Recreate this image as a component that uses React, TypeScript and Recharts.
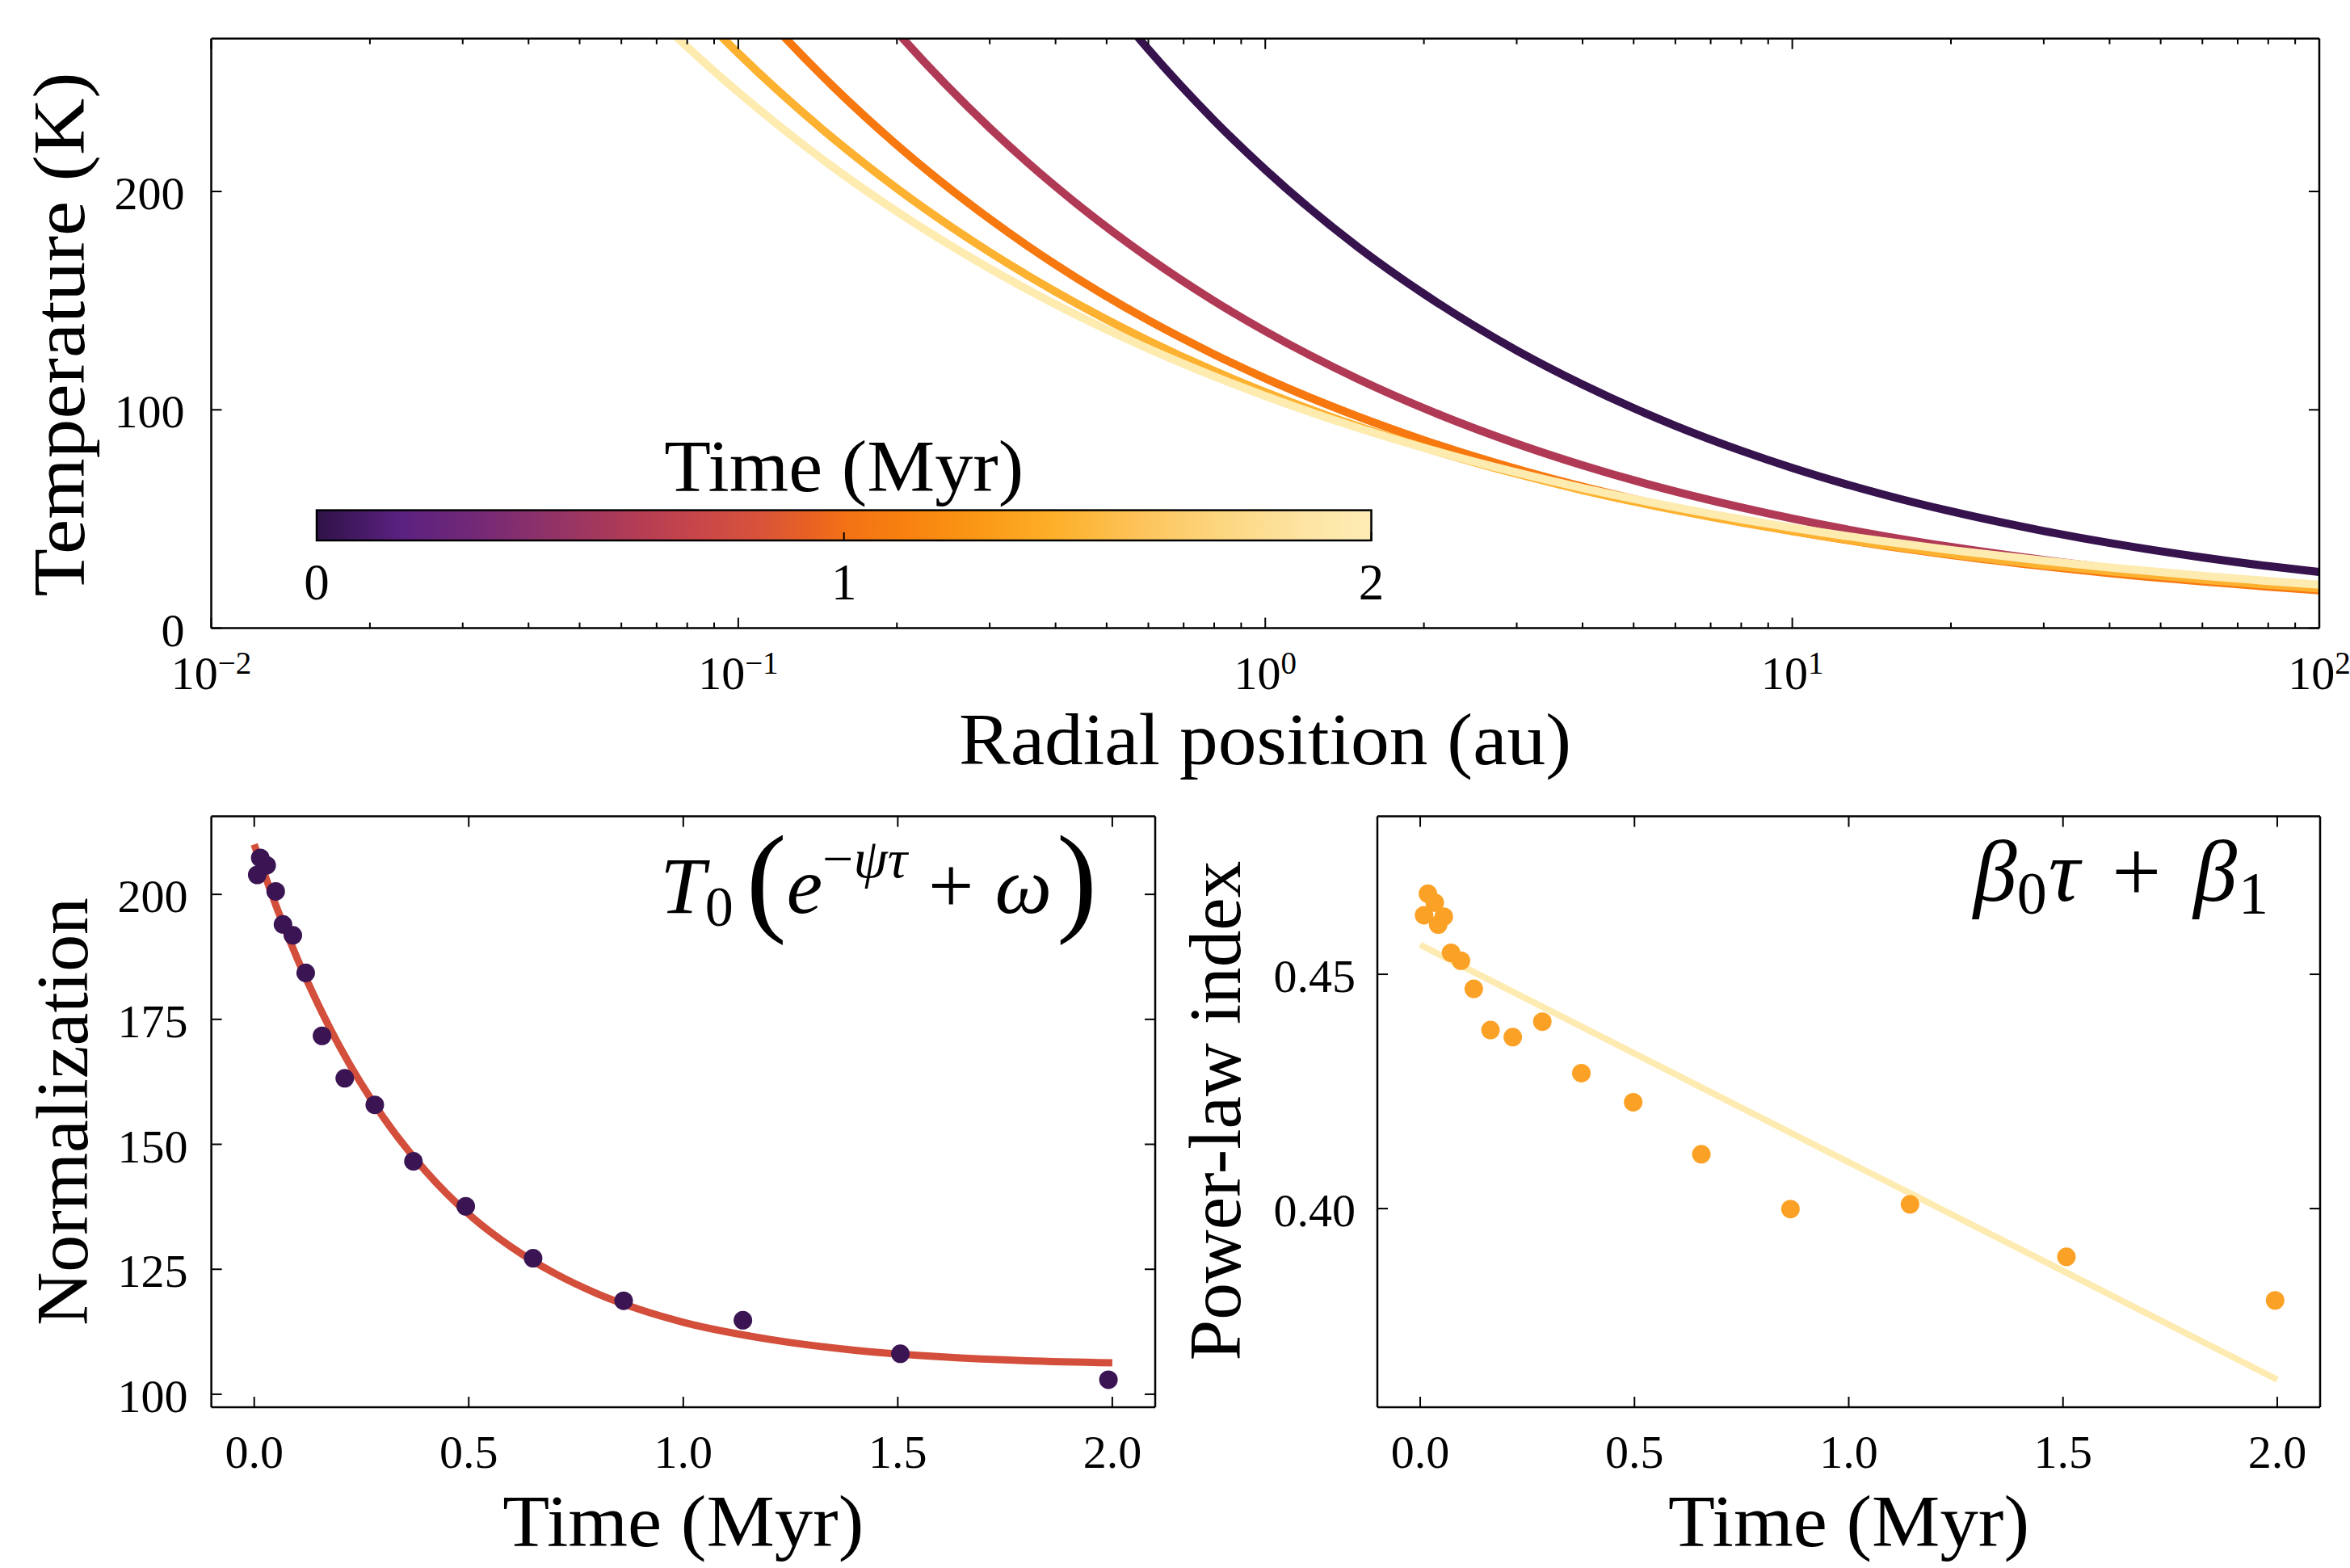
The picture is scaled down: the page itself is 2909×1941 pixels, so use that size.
import React from 'react';
import { LineChart, Line, XAxis, YAxis, ComposedChart, Scatter } from 'recharts';

const FONT = '"Liberation Serif", "Times New Roman", serif';

// ---------- Top panel: temperature profiles ----------
const radii = [0.04, 0.06, 0.08, 0.1, 0.15, 0.2, 0.3, 0.4, 0.6, 0.8, 1, 1.5, 2, 3, 4, 6, 8, 10, 15, 20, 30, 40, 60, 80, 100];
const tempT0 = [912.3, 758.2, 664.9, 600.5, 499.1, 437.7, 363.8, 319.0, 265.1, 232.5, 210.0, 174.5, 153.1, 127.2, 111.6, 92.7, 81.3, 73.4, 61.0, 53.5, 44.5, 39.0, 32.4, 28.4, 25.7];
const tempT05 = [548.3, 460.0, 406.1, 368.7, 309.3, 273.1, 229.1, 202.3, 169.7, 149.8, 136.0, 114.1, 100.7, 84.5, 74.6, 62.6, 55.3, 50.2, 42.1, 37.2, 31.2, 27.5, 23.1, 20.4, 18.5];
const tempT10 = [428.0, 362.5, 322.1, 294.0, 249.0, 221.3, 187.4, 166.5, 141.0, 125.4, 114.4, 96.9, 86.1, 72.9, 64.8, 54.9, 48.8, 44.5, 37.7, 33.5, 28.4, 25.2, 21.4, 19.0, 17.3];
const tempT15 = [375.3, 320.8, 287.1, 263.3, 225.1, 201.4, 172.2, 154.1, 131.7, 117.8, 108.1, 92.4, 82.7, 70.7, 63.2, 54.1, 48.4, 44.4, 37.9, 33.9, 29.0, 26.0, 22.2, 19.9, 18.2];
const tempT20 = [342.5, 295.6, 266.2, 245.5, 211.8, 190.8, 164.7, 148.3, 128.0, 115.3, 106.3, 91.7, 82.6, 71.3, 64.2, 55.4, 49.9, 46.0, 39.7, 35.8, 30.9, 27.8, 24.0, 21.6, 19.9];
const curveSeries = [tempT0, tempT05, tempT10, tempT15, tempT20];
const curveColors = ['#37134e', '#b03a55', '#f6780f', '#fdb130', '#feebb0'];

const xMajorTop = [0.01, 0.1, 1, 10, 100];
const xMajorExp = ['\u22122', '\u22121', '0', '1', '2'];
const xMinorTop = [0.02, 0.03, 0.04, 0.05, 0.06, 0.07, 0.08, 0.09, 0.2, 0.3, 0.4, 0.5, 0.6, 0.7, 0.8, 0.9, 2, 3, 4, 5, 6, 7, 8, 9, 20, 30, 40, 50, 60, 70, 80, 90];
const yTicksTop = [0, 100, 200];

// colorbar
const cbTicks = [0, 1, 2];
const cbStops: [number, string][] = [
  [0, '#2f1247'], [0.08, '#5a2181'], [0.16, '#772a75'], [0.24, '#983563'], [0.3, '#b23c55'],
  [0.36, '#c8464a'], [0.42, '#d8533a'], [0.47, '#e96322'], [0.5, '#f27116'], [0.56, '#f8820f'],
  [0.63, '#fb9916'], [0.7, '#fdb02a'], [0.78, '#fdc45a'], [0.87, '#fdd985'], [0.94, '#fde5a4'], [1, '#feedb6'],
];

// ---------- Bottom-left: normalization ----------
const normTimes = [0.007, 0.014, 0.029, 0.050, 0.067, 0.090, 0.120, 0.158, 0.211, 0.281, 0.371, 0.493, 0.650, 0.861, 1.139, 1.506, 1.991];
const normValues = [203.9, 207.3, 205.8, 200.6, 194.0, 191.8, 184.3, 171.7, 163.2, 157.9, 146.6, 137.6, 127.2, 118.7, 114.8, 108.1, 102.9];
const normFitTimes = [0, 0.05, 0.1, 0.15, 0.2, 0.3, 0.4, 0.5, 0.6, 0.7, 0.8, 0.9, 1.0, 1.2, 1.4, 1.6, 1.8, 2.0];
const normFitValues = [210.0, 197.9, 187.2, 177.8, 169.4, 155.5, 144.6, 136.0, 129.4, 124.2, 120.1, 116.9, 114.4, 111.0, 108.8, 107.5, 106.7, 106.3];
const normYTicks = [100, 125, 150, 175, 200];

// ---------- Bottom-right: power-law index ----------
const indexTimes = [0.009, 0.018, 0.034, 0.042, 0.055, 0.072, 0.095, 0.125, 0.164, 0.216, 0.285, 0.376, 0.497, 0.656, 0.864, 1.143, 1.508, 1.995];
const indexValues = [0.4626, 0.4672, 0.4653, 0.4606, 0.4623, 0.4546, 0.4529, 0.4469, 0.4381, 0.4366, 0.4399, 0.4289, 0.4227, 0.4116, 0.3999, 0.4009, 0.3897, 0.3804];
const indexFitTimes = [0, 2];
const indexFitValues = [0.4563, 0.3635];
const indexYTicks = [0.40, 0.45];

const timeTicks = [0, 0.5, 1, 1.5, 2];

// ---------- styling ----------
const MAJ = 13;
const MIN = 7;
const TW = 2;
const TICK_FS = 58;
const TITLE_FS = 90;
const AXIS_LINE = { stroke: '#000', strokeWidth: 2.5 };

const isMajorLog = (v: number) => xMajorTop.findIndex((m) => Math.abs(v / m - 1) < 1e-6);

const logBottomTick = (p: any) => {
  const { x, y } = p;
  const idx = isMajorLog(p.payload.value);
  const major = idx >= 0;
  return (
    <g>
      <line x1={x} x2={x} y1={y} y2={y - (major ? MAJ : MIN)} stroke="#000" strokeWidth={TW} />
      {major && (
        <text x={x} y={y + 75} textAnchor="middle" fontSize={TICK_FS} fontFamily={FONT} fill="#000">
          <tspan>10</tspan>
          <tspan dy={-19} fontSize={39}>{xMajorExp[idx]}</tspan>
        </text>
      )}
    </g>
  );
};
const logTopTick = (p: any) => {
  const { x, y } = p;
  const major = isMajorLog(p.payload.value) >= 0;
  return <line x1={x} x2={x} y1={y} y2={y + (major ? MAJ : MIN)} stroke="#000" strokeWidth={TW} />;
};

const makeBottomTick = (fmt: (v: number) => string) => (p: any) => {
  const { x, y } = p;
  return (
    <g>
      <line x1={x} x2={x} y1={y} y2={y - MAJ} stroke="#000" strokeWidth={TW} />
      <text x={x} y={y + 75} textAnchor="middle" fontSize={TICK_FS} fontFamily={FONT} fill="#000">{fmt(p.payload.value)}</text>
    </g>
  );
};
const topTick = (p: any) => <line x1={p.x} x2={p.x} y1={p.y} y2={p.y + MAJ} stroke="#000" strokeWidth={TW} />;
const makeLeftTick = (fmt: (v: number) => string, gap: number) => (p: any) => {
  const { x, y } = p;
  return (
    <g>
      <line x1={x} x2={x + MAJ} y1={y} y2={y} stroke="#000" strokeWidth={TW} />
      <text x={x - gap} y={y + 22} textAnchor="end" fontSize={TICK_FS} fontFamily={FONT} fill="#000">{fmt(p.payload.value)}</text>
    </g>
  );
};
const rightTick = (p: any) => <line x1={p.x} x2={p.x - MAJ} y1={p.y} y2={p.y} stroke="#000" strokeWidth={TW} />;

const fmt1 = (v: number) => v.toFixed(1);
const fmt2 = (v: number) => v.toFixed(2);
const fmt0 = (v: number) => String(v);

const Title = ({ x, y, text, len, rotate }: { x: number; y: number; text: string; len: number; rotate?: boolean }) => (
  <text
    x={x}
    y={y}
    textAnchor="middle"
    fontSize={TITLE_FS}
    fontFamily={FONT}
    fill="#000"
    textLength={len}
    lengthAdjust="spacingAndGlyphs"
    transform={rotate ? `rotate(-90 ${x} ${y})` : undefined}
  >
    {text}
  </text>
);

export default function App() {
  const cbLeft = 392;
  const cbRight = 1697.5;
  const cbTop = 631.6;
  const cbBottom = 669;
  const cbX = (v: number) => cbLeft + ((v - cbTicks[0]) / (cbTicks[cbTicks.length - 1] - cbTicks[0])) * (cbRight - cbLeft);

  const normPts = normTimes.map((t, i) => ({ x: t, y: normValues[i] }));
  const normFit = normFitTimes.map((t, i) => ({ x: t, y: normFitValues[i] }));
  const idxPts = indexTimes.map((t, i) => ({ x: t, y: indexValues[i] }));
  const idxFit = indexFitTimes.map((t, i) => ({ x: t, y: indexFitValues[i] }));

  return (
    <div style={{ position: 'absolute', left: 0, top: 0, width: 2909, height: 1941, background: '#fff', fontFamily: FONT }}>
      {/* Top panel */}
      <div style={{ position: 'absolute', left: 0, top: 0 }}>
        <LineChart width={2909} height={1000} margin={{ top: 46.8, right: 37, bottom: 0, left: 0 }}>
          <XAxis
            xAxisId="b" type="number" dataKey="r" scale="log" domain={[0.01, 100]} allowDataOverflow
            ticks={[...xMajorTop, ...xMinorTop]} interval={0} height={222.4}
            tickSize={0} tickMargin={0} tickLine={false} axisLine={AXIS_LINE} tick={logBottomTick}
          />
          <XAxis
            xAxisId="t" orientation="top" type="number" dataKey="r" scale="log" domain={[0.01, 100]} allowDataOverflow
            ticks={[...xMajorTop, ...xMinorTop]} interval={0} height={1}
            tickSize={0} tickMargin={0} tickLine={false} axisLine={AXIS_LINE} tick={logTopTick}
          />
          <YAxis
            yAxisId="l" type="number" domain={[0, 270]} allowDataOverflow ticks={yTicksTop} interval={0} width={261.5}
            tickSize={0} tickMargin={0} tickLine={false} axisLine={AXIS_LINE} tick={makeLeftTick(fmt0, 33)}
          />
          <YAxis
            yAxisId="r" orientation="right" type="number" domain={[0, 270]} allowDataOverflow ticks={yTicksTop} interval={0} width={1}
            tickSize={0} tickMargin={0} tickLine={false} axisLine={AXIS_LINE} tick={rightTick}
          />
          {curveSeries.map((vals, k) => (
            <Line
              key={k}
              xAxisId="b"
              yAxisId="l"
              data={radii.map((r, i) => ({ r, T: vals[i] }))}
              dataKey="T"
              type="monotone"
              stroke={curveColors[k]}
              strokeWidth={10}
              dot={false}
              activeDot={false}
              isAnimationActive={false}
            />
          ))}
        </LineChart>
      </div>

      {/* Bottom-left panel */}
      <div style={{ position: 'absolute', left: 0, top: 1000 }}>
        <ComposedChart width={1460} height={941} margin={{ top: 9.6, right: 29, bottom: 0, left: 0 }}>
          <XAxis
            xAxisId="b" type="number" dataKey="x" domain={[-0.1, 2.1]} allowDataOverflow ticks={timeTicks} interval={0} height={199}
            tickSize={0} tickMargin={0} tickLine={false} axisLine={AXIS_LINE} tick={makeBottomTick(fmt1)}
          />
          <XAxis
            xAxisId="t" orientation="top" type="number" dataKey="x" domain={[-0.1, 2.1]} allowDataOverflow ticks={timeTicks} interval={0} height={1}
            tickSize={0} tickMargin={0} tickLine={false} axisLine={AXIS_LINE} tick={topTick}
          />
          <YAxis
            yAxisId="l" type="number" dataKey="y" domain={[97.4, 215.6]} allowDataOverflow ticks={normYTicks} interval={0} width={261.6}
            tickSize={0} tickMargin={0} tickLine={false} axisLine={AXIS_LINE} tick={makeLeftTick(fmt0, 29)}
          />
          <YAxis
            yAxisId="r" orientation="right" type="number" dataKey="y" domain={[97.4, 215.6]} allowDataOverflow ticks={normYTicks} interval={0} width={1}
            tickSize={0} tickMargin={0} tickLine={false} axisLine={AXIS_LINE} tick={rightTick}
          />
          <Scatter
            xAxisId="b" yAxisId="l" data={normPts} dataKey="y" isAnimationActive={false}
            shape={(p: any) => <circle cx={p.cx} cy={p.cy} r={11.5} fill="#3a1453" />}
          />
          <Line
            xAxisId="b" yAxisId="l" data={normFit} dataKey="y" type="monotone" stroke="#d34f3b" strokeWidth={9}
            dot={false} activeDot={false} isAnimationActive={false}
          />
        </ComposedChart>
      </div>

      {/* Bottom-right panel */}
      <div style={{ position: 'absolute', left: 1460, top: 1000 }}>
        <ComposedChart width={1449} height={941} margin={{ top: 9.6, right: 36, bottom: 0, left: 0 }}>
          <XAxis
            xAxisId="b" type="number" dataKey="x" domain={[-0.1, 2.1]} allowDataOverflow ticks={timeTicks} interval={0} height={199}
            tickSize={0} tickMargin={0} tickLine={false} axisLine={AXIS_LINE} tick={makeBottomTick(fmt1)}
          />
          <XAxis
            xAxisId="t" orientation="top" type="number" dataKey="x" domain={[-0.1, 2.1]} allowDataOverflow ticks={timeTicks} interval={0} height={1}
            tickSize={0} tickMargin={0} tickLine={false} axisLine={AXIS_LINE} tick={topTick}
          />
          <YAxis
            yAxisId="l" type="number" dataKey="y" domain={[0.3576, 0.4837]} allowDataOverflow ticks={indexYTicks} interval={0} width={245}
            tickSize={0} tickMargin={0} tickLine={false} axisLine={AXIS_LINE} tick={makeLeftTick(fmt2, 27)}
          />
          <YAxis
            yAxisId="r" orientation="right" type="number" dataKey="y" domain={[0.3576, 0.4837]} allowDataOverflow ticks={indexYTicks} interval={0} width={1}
            tickSize={0} tickMargin={0} tickLine={false} axisLine={AXIS_LINE} tick={rightTick}
          />
          <Line
            xAxisId="b" yAxisId="l" data={idxFit} dataKey="y" type="linear" stroke="#feebb2" strokeWidth={8}
            dot={false} activeDot={false} isAnimationActive={false}
          />
          <Scatter
            xAxisId="b" yAxisId="l" data={idxPts} dataKey="y" isAnimationActive={false}
            shape={(p: any) => <circle cx={p.cx} cy={p.cy} r={11.5} fill="#fba226" />}
          />
        </ComposedChart>
      </div>

      {/* Overlay: titles, colorbar, annotations */}
      <svg width={2909} height={1941} style={{ position: 'absolute', left: 0, top: 0, pointerEvents: 'none' }}>
        <defs>
          <linearGradient id="cbGrad" x1="0" x2="1" y1="0" y2="0">
            {cbStops.map(([o, c], i) => (
              <stop key={i} offset={o} stopColor={c} />
            ))}
          </linearGradient>
        </defs>

        {/* colorbar */}
        <rect x={cbLeft} y={cbTop} width={cbRight - cbLeft} height={cbBottom - cbTop} fill="url(#cbGrad)" stroke="#000" strokeWidth={2.5} />
        {cbTicks.map((v) => (
          <g key={v}>
            <line x1={cbX(v)} x2={cbX(v)} y1={cbBottom} y2={cbBottom - 10} stroke="#000" strokeWidth={TW} />
            <text x={cbX(v)} y={742} textAnchor="middle" fontSize={63} fontFamily={FONT} fill="#000">{String(v)}</text>
          </g>
        ))}
        <Title x={(cbLeft + cbRight) / 2} y={608} text="Time (Myr)" len={445} />

        {/* axis titles */}
        <Title x={104} y={414} text="Temperature (K)" len={649} rotate />
        <Title x={1566} y={946} text="Radial position (au)" len={758} />
        <Title x={108} y={1376} text="Normalization" len={530} rotate />
        <Title x={845.8} y={1914} text="Time (Myr)" len={447} />
        <Title x={1535} y={1375} text="Power-law index" len={619} rotate />
        <Title x={2288.5} y={1914} text="Time (Myr)" len={447} />

        {/* annotations */}
        <text x={1358} y={1130} textAnchor="end" fontFamily={FONT} fill="#000" fontSize={100}>
          <tspan fontStyle="italic">T</tspan>
          <tspan fontSize={70} dy={16}>0</tspan>
          <tspan fontSize={150} dy={-8} dx={16}>(</tspan>
          <tspan fontStyle="italic" dy={-8}>e</tspan>
          <tspan fontSize={68} dy={-44}>{'\u2212'}</tspan>
          <tspan fontSize={68} fontStyle="italic">{'\u03c8\u03c4'}</tspan>
          <tspan dy={44} dx={26}>+</tspan>
          <tspan fontStyle="italic" dx={26}>{'\u03c9'}</tspan>
          <tspan fontSize={150} dy={8} dx={6}>)</tspan>
        </text>
        <text x={2808} y={1115} textAnchor="end" fontFamily={FONT} fill="#000" fontSize={108}>
          <tspan fontStyle="italic">{'\u03b2'}</tspan>
          <tspan fontSize={74} dy={16}>0</tspan>
          <tspan fontStyle="italic" dy={-16} dx={2}>{'\u03c4'}</tspan>
          <tspan dx={40}>+</tspan>
          <tspan fontStyle="italic" dx={40}>{'\u03b2'}</tspan>
          <tspan fontSize={74} dy={16} dx={2}>1</tspan>
        </text>
      </svg>
    </div>
  );
}
